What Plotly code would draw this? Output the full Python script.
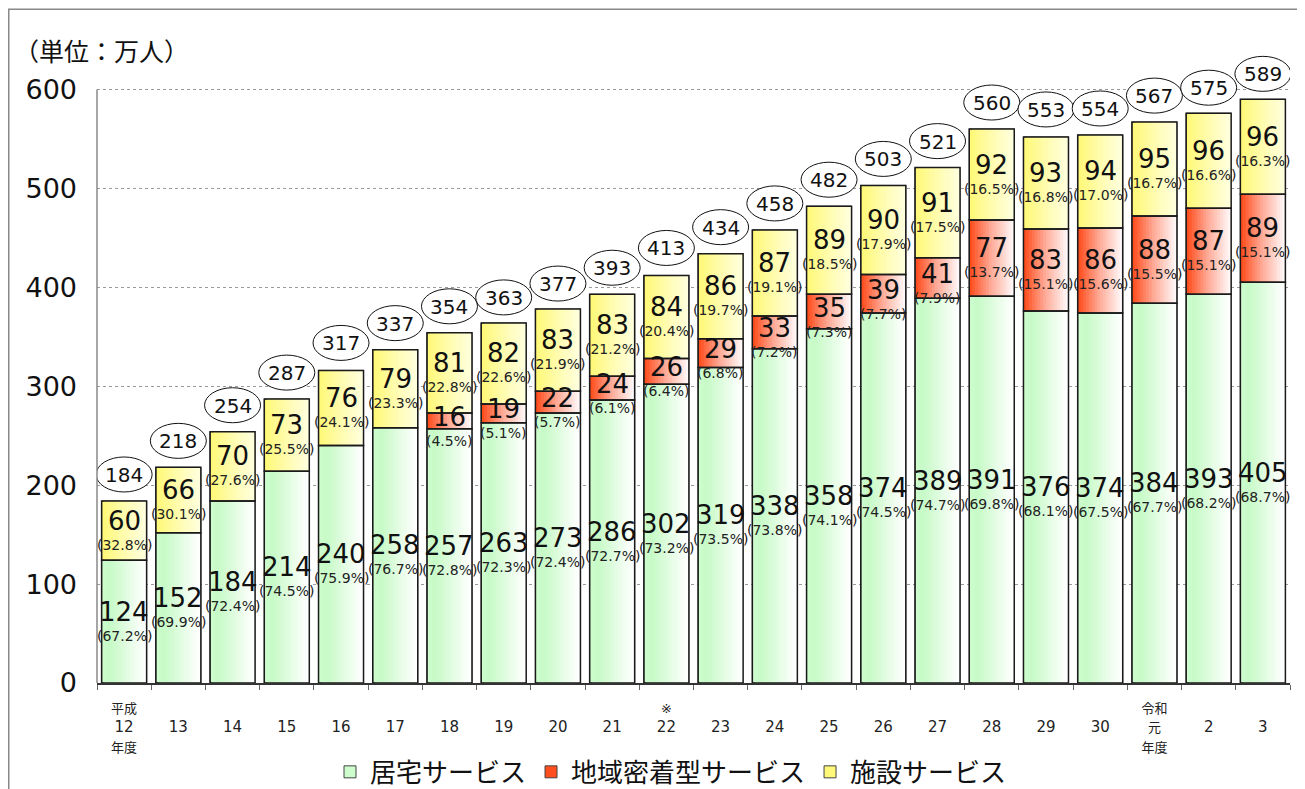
import plotly.graph_objects as go

# ---------------- data ----------------
categories = ["H12", "H13", "H14", "H15", "H16", "H17", "H18", "H19", "H20", "H21", "H22",
              "H23", "H24", "H25", "H26", "H27", "H28", "H29", "H30", "R1", "R2", "R3"]
tick_labels = [
    "<span style='font-size:13px'>平成</span><br>12<br><span style='font-size:13px'>年度</span>",
    " <br>13", " <br>14", " <br>15", " <br>16", " <br>17", " <br>18", " <br>19", " <br>20", " <br>21",
    "<span style='font-size:13px'>※</span><br>22",
    " <br>23", " <br>24", " <br>25", " <br>26", " <br>27", " <br>28", " <br>29", " <br>30",
    "<span style='font-size:13px'>令和</span><br><span style='font-size:13px'>元</span><br><span style='font-size:13px'>年度</span>",
    " <br>2", " <br>3",
]
y_ticks = [0, 100, 200, 300, 400, 500, 600]
home = [124, 152, 184, 214, 240, 258, 257, 263, 273, 286, 302,
        319, 338, 358, 374, 389, 391, 376, 374, 384, 393, 405]
home_pct = [67.2, 69.9, 72.4, 74.5, 75.9, 76.7, 72.8, 72.3, 72.4, 72.7, 73.2,
            73.5, 73.8, 74.1, 74.5, 74.7, 69.8, 68.1, 67.5, 67.7, 68.2, 68.7]
community = [None, None, None, None, None, None, 16, 19, 22, 24, 26,
             29, 33, 35, 39, 41, 77, 83, 86, 88, 87, 89]
community_pct = [None, None, None, None, None, None, 4.5, 5.1, 5.7, 6.1, 6.4,
                 6.8, 7.2, 7.3, 7.7, 7.9, 13.7, 15.1, 15.6, 15.5, 15.1, 15.1]
facility = [60, 66, 70, 73, 76, 79, 81, 82, 83, 83, 84,
            86, 87, 89, 90, 91, 92, 93, 94, 95, 96, 96]
facility_pct = [32.8, 30.1, 27.6, 25.5, 24.1, 23.3, 22.8, 22.6, 21.9, 21.2, 20.4,
                19.7, 19.1, 18.5, 17.9, 17.5, 16.5, 16.8, 17.0, 16.7, 16.6, 16.3]
totals = [184, 218, 254, 287, 317, 337, 354, 363, 377, 393, 413,
          434, 458, 482, 503, 521, 560, 553, 554, 567, 575, 589]
series_names = ["居宅サービス", "地域密着型サービス", "施設サービス"]
unit_label = "（単位：万人）"

# ---------------- style ----------------
NUM_FONT = "DejaVu Sans, Noto Sans CJK JP"
JP_FONT = "Noto Sans CJK JP"
BAR_W = 0.83
STRIPS = 16
gradients = [
    [(0.0, (205, 252, 205)), (0.15, (198, 250, 198)), (1.0, (255, 255, 255))],
    [(0.0, (255, 78, 30)), (0.45, (255, 165, 145)), (1.0, (255, 248, 248))],
    [(0.0, (255, 248, 120)), (0.5, (255, 252, 175)), (1.0, (255, 255, 222))],
]


def grad_color(stops, t):
    for (t0, c0), (t1, c1) in zip(stops[:-1], stops[1:]):
        if t <= t1:
            f = (t - t0) / (t1 - t0) if t1 > t0 else 0
            c = [round(a + (b - a) * f) for a, b in zip(c0, c1)]
            return "rgb(%d,%d,%d)" % tuple(c)
    return "rgb(%d,%d,%d)" % stops[-1][1]


comm0 = [c if c is not None else 0 for c in community]
bases = [
    [0] * len(home),
    list(home),
    [h + c for h, c in zip(home, comm0)],
]
values = [home, community, facility]
pcts = [home_pct, community_pct, facility_pct]

fig = go.Figure()

for s in range(3):
    for j in range(STRIPS):
        t = j / (STRIPS - 1)
        off = -BAR_W / 2 + j * BAR_W / STRIPS
        fig.add_trace(go.Bar(
            x=categories, y=values[s], base=bases[s],
            offset=off, width=BAR_W - j * BAR_W / STRIPS,
            marker=dict(color=grad_color(gradients[s], t),
                        line=dict(width=1 if j == 0 else 0, color="#444")),
            name=series_names[s], showlegend=(j == 0), legendgroup=series_names[s],
            hoverinfo="skip",
        ))
for s in range(3):
    fig.add_trace(go.Bar(
        x=categories, y=values[s], base=bases[s],
        offset=-BAR_W / 2, width=BAR_W,
        marker=dict(color="rgba(0,0,0,0)", line=dict(width=1.5, color="#1a1a1a")),
        showlegend=False, legendgroup=series_names[s], hoverinfo="skip",
    ))

annotations = []
shapes = []
for s in range(3):
    for i, cat in enumerate(categories):
        v = values[s][i]
        if v is None:
            continue
        mid = bases[s][i] + v / 2
        small = v < 50
        annotations.append(dict(
            x=cat, y=mid, text=str(v), showarrow=False,
            font=dict(family=NUM_FONT, size=26, color="#111"),
            yshift=4 if small else 10,
        ))
        annotations.append(dict(
            x=cat, y=mid, text="(%.1f%%)" % pcts[s][i], showarrow=False,
            font=dict(family=NUM_FONT, size=14, color="#222"),
            yshift=-20 if small else -14,
        ))

for i, cat in enumerate(categories):
    shapes.append(dict(
        type="circle", xref="x", yref="y", xsizemode="pixel", ysizemode="pixel",
        xanchor=cat, yanchor=totals[i], x0=-28, x1=28, y0=9, y1=44,
        line=dict(color="#111", width=1), fillcolor="white", layer="above",
    ))
    annotations.append(dict(
        x=cat, y=totals[i], text=str(totals[i]), showarrow=False, yshift=26,
        font=dict(family=NUM_FONT, size=20, color="#111"),
    ))

# The page puts the figure 8px in from the top-left corner.
FIG_W, FIG_H = 1297, 781
L, R_EDGE = 89, 1282          # plot area left / right (figure px)
Y0_PX = 675                   # y = 0 (figure px)
Y_TOP = 650                   # extra head-room so the total ellipses are not clipped
PX_PER_UNIT = 0.99
PH = Y_TOP * PX_PER_UNIT
T = Y0_PX - PH
PW = R_EDGE - L


def px(xf):
    return (xf - L) / PW


def py(yf):
    return (Y0_PX - yf) / PH


annotations.append(dict(
    xref="paper", yref="paper", x=px(4), y=py(42),
    xanchor="left", yanchor="middle", text=unit_label, showarrow=False,
    font=dict(family=JP_FONT, size=25, color="#111"),
))
shapes.append(dict(
    type="rect", xref="paper", yref="paper",
    x0=px(0.75), x1=px(1292.5), y0=py(800), y1=py(0.75),
    line=dict(color="#888", width=1.5), fillcolor="rgba(0,0,0,0)", layer="below",
))
# y-axis line from 0 to 600
shapes.append(dict(
    type="line", xref="paper", yref="y", x0=0, x1=0, y0=y_ticks[0], y1=y_ticks[-1],
    line=dict(color="#888", width=1.5), layer="above",
))

fig.update_layout(
    width=FIG_W, height=FIG_H,
    margin=dict(l=L, r=FIG_W - R_EDGE, t=T, b=FIG_H - Y0_PX, autoexpand=False),
    paper_bgcolor="white", plot_bgcolor="white",
    barmode="overlay",
    annotations=annotations, shapes=shapes,
    legend=dict(orientation="h", xanchor="center", x=px(663),
                yanchor="middle", y=py(764),
                font=dict(family=JP_FONT, size=26, color="#111"),
                bgcolor="rgba(0,0,0,0)", traceorder="normal"),
    xaxis=dict(
        tickmode="array", tickvals=categories, ticktext=tick_labels,
        showline=True, linecolor="#333", linewidth=1.5,
        ticks="outside", tickson="boundaries", ticklen=5, tickcolor="#666",
        ticklabelstandoff=10,
        tickfont=dict(family=NUM_FONT, size=15, color="#222"),
        showgrid=False, range=[-0.5, len(categories) - 0.5],
    ),
    yaxis=dict(
        range=[0, Y_TOP], tickmode="array", tickvals=y_ticks,
        showgrid=True, gridcolor="#9a9a9a", griddash="dot", gridwidth=1,
        showline=False, ticks="", ticklabelstandoff=19, zeroline=False,
        tickfont=dict(family=NUM_FONT, size=27, color="#111"),
    ),
)

fig.write_html("out.html")
